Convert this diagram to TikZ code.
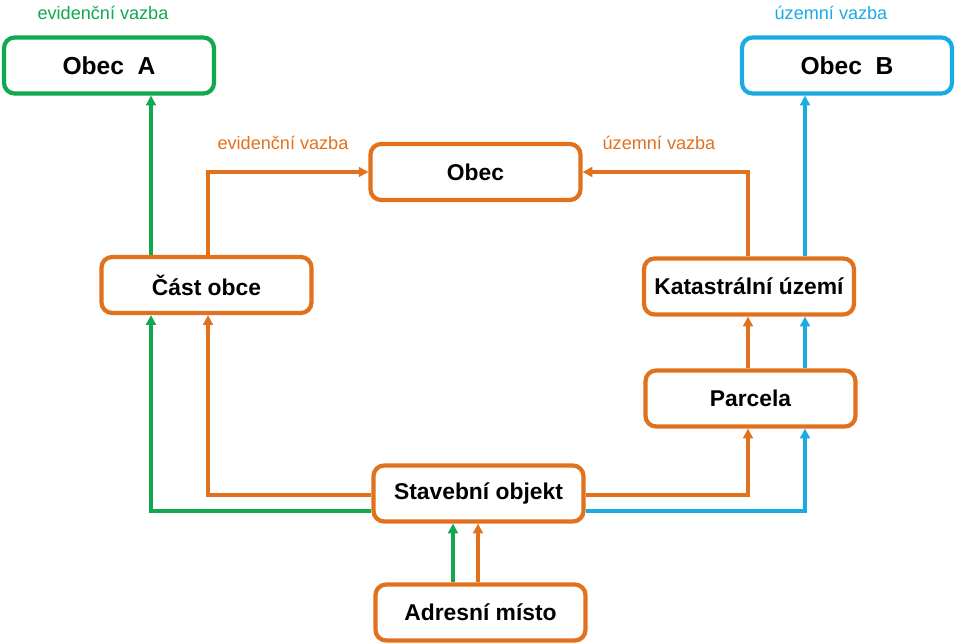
\documentclass[tikz,border=0pt]{standalone}
\usepackage{fontspec}
\setmainfont{Liberation Sans}
\usepackage{xcolor}
\usepackage{tikz}
\usetikzlibrary{arrows.meta,positioning,calc}
\definecolor{zelena}{HTML}{12A850}
\definecolor{modra}{HTML}{1AABE2}
\definecolor{oranz}{HTML}{E2711D}
\newcommand{\vazbabox}[4]{
  \node[draw=#3,line width=2.4pt,rounded corners=6pt,fill=white,minimum width=4.2cm,minimum height=1.12cm,font=\bfseries\fontsize{13}{15}\selectfont] (#1) at #2 {#4};
}

\begin{document}
\begin{tikzpicture}[x=0.02cm,y=-0.02cm,>={Triangle[length=5.5pt,width=5.5pt]}]
  \useasboundingbox (0,0) rectangle (960,644);
  \vazbabox{obecA}{(109,65.5)}{zelena}{\fontsize{14}{16}\selectfont Obec\ \ A}
  \vazbabox{obecB}{(847,65.5)}{modra}{\fontsize{14}{16}\selectfont Obec\ \ B}
  \vazbabox{obec}{(475.5,172)}{oranz}{Obec}
  \vazbabox{cast}{(206.5,285)}{oranz}{Část obce}
  \vazbabox{kat}{(749,286.5)}{oranz}{Katastrální území}
  \vazbabox{parc}{(750.5,398.5)}{oranz}{Parcela}
  \vazbabox{stav}{(478.5,493.5)}{oranz}{Stavební objekt}
  \vazbabox{adr}{(480.5,612.5)}{oranz}{Adresní místo}
  % popisky vazeb
  \node[text=zelena,font=\fontsize{10.3}{12}\selectfont] (lA) at (103,13) {evidenční vazba};
  \node[text=modra,font=\fontsize{10.3}{12}\selectfont] (lB) at (831,13) {územní vazba};
  \node[text=oranz,font=\fontsize{10.3}{12}\selectfont] (lev) at (283,143) {evidenční vazba};
  \node[text=oranz,font=\fontsize{10.3}{12}\selectfont] (luz) at (659,143) {územní vazba};
  % vazby
  \draw[->,zelena,line width=2pt] (cast.north -| 151,0) -- (obecA.south -| 151,0);
  \draw[->,oranz,line width=2pt] (cast.north -| 208,0) |- (obec.west);
  \draw[->,oranz,line width=2pt] (kat.north -| 748,0) |- (obec.east);
  \draw[->,modra,line width=2pt] (kat.north -| 805,0) -- (obecB.south -| 805,0);
  \draw[->,zelena,line width=2pt] (stav.west |- 0,511) -| (cast.south -| 151,0);
  \draw[->,oranz,line width=2pt] (stav.west |- 0,495) -| (cast.south -| 208,0);
  \draw[->,oranz,line width=2pt] (stav.east |- 0,495) -| (parc.south -| 748,0);
  \draw[->,modra,line width=2pt] (stav.east |- 0,511) -| (parc.south -| 805,0);
  \draw[->,oranz,line width=2pt] (parc.north -| 748,0) -- (kat.south -| 748,0);
  \draw[->,modra,line width=2pt] (parc.north -| 805,0) -- (kat.south -| 805,0);
  \draw[->,zelena,line width=2pt] (adr.north -| 453,0) -- (stav.south -| 453,0);
  \draw[->,oranz,line width=2pt] (adr.north -| 478,0) -- (stav.south -| 478,0);
\end{tikzpicture}
\end{document}
